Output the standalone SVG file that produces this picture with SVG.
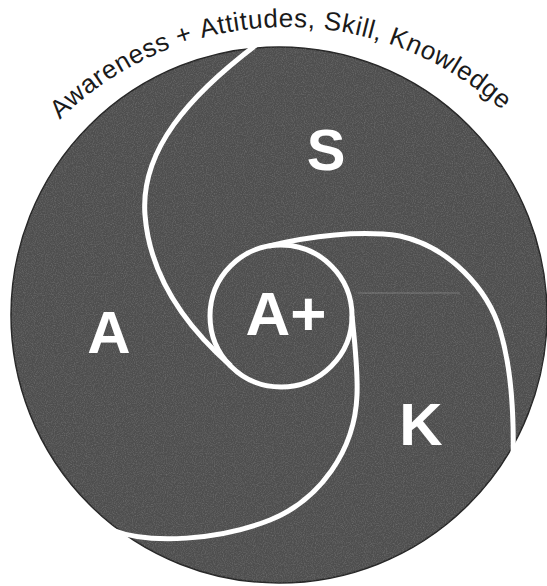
<svg xmlns="http://www.w3.org/2000/svg" width="547" height="586" viewBox="0 0 547 586">
  <defs>
    <style>
      .big { font-family: "Liberation Sans", Arial, sans-serif; font-weight: bold; fill: #ffffff; text-anchor: middle; }
      .arm { fill: none; stroke: #ffffff; stroke-width: 5; stroke-linecap: butt; }
      .title { font-family: "Liberation Sans", Arial, sans-serif; font-size: 26px; fill: #1a1a1a; letter-spacing: 0.6px; }
    </style>
    <clipPath id="discClip">
      <circle cx="279" cy="315" r="268"/>
    </clipPath>
    <filter id="grain" x="0" y="0" width="100%" height="100%">
      <feTurbulence type="fractalNoise" baseFrequency="0.9" numOctaves="2" seed="3" result="n"/>
      <feColorMatrix type="matrix" values="0 0 0 0 1  0 0 0 0 1  0 0 0 0 1  0.9 0 0 0 -0.35" />
    </filter>
    <path id="titleArc" d="M59.9,119.7 A322,322 0 0 1 517.6,125.3"/>
  </defs>

  <rect width="547" height="586" fill="#ffffff"/>

  <g id="disc">
    <circle cx="279" cy="315" r="268" fill="#4e4e4e" stroke="#262626" stroke-width="1.5"/>
    <rect x="0" y="0" width="547" height="586" filter="url(#grain)" clip-path="url(#discClip)" opacity="0.35"/>
    <line x1="358" y1="293" x2="460" y2="293" stroke="#9a9a9a" stroke-width="0.8" opacity="0.7"/>
  </g>

  <g id="connectors">
    <path class="arm" d="M256,45 C190,95 140,150 145,215 C150,280 190,330 231,366"/>
    <path class="arm" d="M269,246 C310,236 360,230 400,236 C450,247 488,290 500,330 C512,370 514,420 513,460"/>
    <path class="arm" d="M352,316 C355,345 358,370 357,395 C355,450 320,500 270,520 C220,540 150,545 112,530"/>
  </g>

  <g id="node-Aplus">
    <circle cx="281" cy="316" r="71" fill="none" stroke="#ffffff" stroke-width="5"/>
    <text class="big" x="286" y="335" font-size="62">A+</text>
  </g>

  <g id="node-S">
    <text class="big" x="326" y="170" font-size="58">S</text>
  </g>

  <g id="node-A">
    <text class="big" x="109" y="353" font-size="60">A</text>
  </g>

  <g id="node-K">
    <text class="big" x="421" y="445" font-size="60">K</text>
  </g>

  <g id="title">
    <text class="title"><textPath href="#titleArc">Awareness +</textPath></text>
    <text class="title"><textPath href="#titleArc" startOffset="165.4">Attitudes,</textPath></text>
    <text class="title"><textPath href="#titleArc" startOffset="287.6">Skill,</textPath></text>
    <text class="title"><textPath href="#titleArc" startOffset="353.9">Knowledge</textPath></text>
  </g>
</svg>
